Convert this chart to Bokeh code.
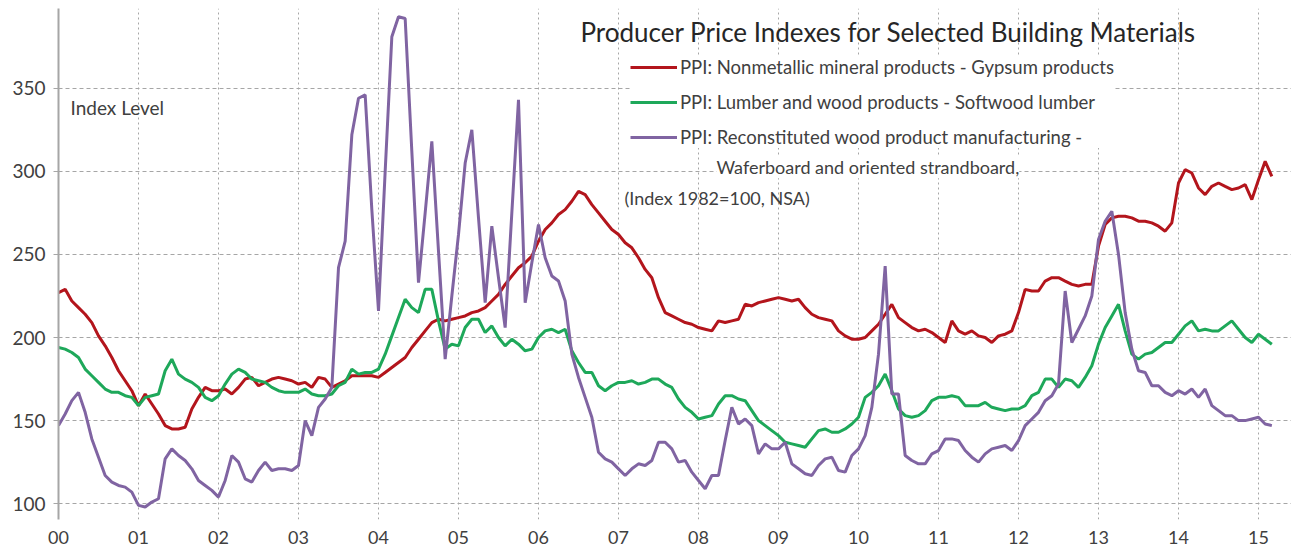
import numpy as np
from bokeh.plotting import figure
from bokeh.models import Range1d, FixedTicker, Label, Legend, LegendItem
from bokeh.embed import file_html
from bokeh.resources import INLINE

# Monthly index levels, Jan 2000 - Mar 2015
gypsum = [
    227, 229, 222, 218, 214, 209, 201, 195, 188, 180, 174, 168,
    159, 166, 160, 154, 147, 145, 145, 146, 157, 164, 170, 168,
    168, 169, 166, 170, 175, 176, 171, 173, 175, 176, 175, 174,
    172, 173, 170, 176, 175, 170, 172, 174, 177, 177, 177, 177,
    176, 179, 182, 185, 188, 194, 199, 204, 209, 211, 210, 211,
    212, 213, 215, 216, 218, 222, 226, 232, 237, 242, 245, 249,
    258, 265, 269, 274, 277, 282, 288, 286, 280, 275, 270, 265,
    262, 257, 254, 248, 241, 236, 224, 215, 213, 211, 209, 208,
    206, 205, 204, 210, 209, 210, 211, 220, 219, 221, 222, 223,
    224, 223, 222, 223, 218, 214, 212, 211, 210, 204, 201, 199,
    199, 200, 204, 208, 214, 220, 212, 209, 206, 204, 205, 203,
    200, 197, 210, 204, 202, 204, 201, 200, 197, 201, 202, 204,
    215, 229, 228, 228, 234, 236, 236, 234, 232, 231, 232, 232,
    255, 268, 272, 273, 273, 272, 270, 270, 269, 267, 264, 269,
    293, 301, 299, 290, 286, 291, 293, 291, 289, 290, 292, 283,
    295, 306, 297,
]
softwood = [
    194, 193, 191, 188, 181, 177, 173, 169, 167, 167, 165, 164,
    159, 164, 165, 166, 180, 187, 178, 175, 173, 170, 164, 162,
    165, 172, 178, 181, 179, 175, 174, 173, 170, 168, 167, 167,
    167, 169, 166, 165, 165, 166, 171, 173, 181, 178, 179, 179,
    181, 190, 201, 212, 223, 218, 215, 229, 229, 210, 193, 196,
    195, 206, 211, 211, 203, 207, 200, 195, 199, 196, 192, 193,
    200, 204, 205, 203, 205, 192, 185, 179, 179, 171, 168, 171,
    173, 173, 174, 172, 173, 175, 175, 172, 170, 163, 158, 155,
    151, 152, 153, 160, 165, 165, 163, 162, 156, 150, 147, 144,
    141, 137, 136, 135, 134, 139, 144, 145, 143, 143, 145, 148,
    152, 164, 167, 171, 178, 168, 157, 153, 152, 153, 156, 162,
    164, 164, 165, 164, 159, 159, 159, 161, 158, 157, 156, 157,
    157, 159, 165, 167, 175, 175, 170, 175, 174, 170, 176, 183,
    196, 206, 213, 220, 204, 190, 187, 190, 191, 194, 197, 197,
    202, 207, 210, 204, 205, 204, 204, 207, 210, 205, 200, 197,
    202, 199, 196,
]
osb = [
    147, 154, 162, 167, 155, 139, 128, 117, 113, 111, 110, 107,
    99, 98, 101, 103, 127, 133, 129, 126, 121, 114, 111, 108,
    104, 114, 129, 125, 115, 113, 120, 125, 120, 121, 121, 120,
    123, 150, 141, 158, 163, 170, 242, 258, 322, 344, 346, 277,
    216, 300, 381, 393, 392, 312, 233, 275, 318, 252, 187, 225,
    262, 305, 325, 272, 221, 267, 236, 206, 275, 343, 221, 245,
    268, 248, 237, 234, 222, 190, 176, 164, 152, 131, 127, 125,
    121, 117, 121, 124, 123, 126, 137, 137, 133, 125, 126, 119,
    114, 109, 117, 117, 138, 158, 148, 151, 147, 130, 136, 133,
    133, 137, 124, 121, 118, 117, 123, 127, 128, 120, 119, 129,
    133, 141, 158, 190, 243, 166, 166, 129, 126, 124, 124, 130,
    132, 139, 139, 138, 132, 128, 125, 130, 133, 134, 135, 132,
    138, 147, 151, 155, 162, 165, 172, 228, 197, 205, 213, 225,
    259, 270, 276, 250, 215, 193, 180, 179, 171, 171, 167, 165,
    168, 166, 169, 164, 169, 159, 156, 153, 153, 150, 150, 151,
    152, 148, 147,
]
series_names = [
    "PPI: Nonmetallic mineral products - Gypsum products",
    "PPI: Lumber and wood products - Softwood lumber",
    "PPI: Reconstituted wood product manufacturing - ",
]
x_tick_years = list(range(2000, 2016))
x_tick_labels = ["%02d" % (y % 100) for y in x_tick_years]
y_ticks = [100, 150, 200, 250, 300, 350]

start_year = 2000
months = np.arange(len(gypsum))
xs = start_year + months / 12.0

FONT = "Lato"
RED = "#b3151c"
GREEN = "#1ea85a"
PURPLE = "#8064a2"
GRID = "#a6a6a6"
TXT = "#404040"

p = figure(width=1291, height=551,
           x_range=Range1d(2000, 2015.4125), y_range=Range1d(90.5, 398),
           output_backend="svg", toolbar_location=None,
           min_border_left=58, min_border_right=0, min_border_top=8,
           min_border_bottom=32)
p.outline_line_color = None
p.background_fill_color = "white"
p.border_fill_color = "white"

p.xaxis.ticker = FixedTicker(ticks=x_tick_years)
p.xaxis.major_label_overrides = {y: l for y, l in zip(x_tick_years, x_tick_labels)}
p.xaxis.axis_line_color = None
p.xaxis.major_tick_line_color = None
p.xaxis.minor_tick_line_color = None
p.xaxis.major_label_standoff = 5
p.xaxis.major_label_text_font = FONT
p.xaxis.major_label_text_font_size = "18px"
p.xaxis.major_label_text_color = TXT

p.yaxis.ticker = FixedTicker(ticks=y_ticks)
p.yaxis.axis_line_color = GRID
p.yaxis.axis_line_width = 2
p.yaxis.major_tick_out = 5
p.yaxis.major_tick_in = 0
p.yaxis.major_tick_line_color = GRID
p.yaxis.minor_tick_line_color = None
p.yaxis.major_label_standoff = 8
p.yaxis.major_label_text_font = FONT
p.yaxis.major_label_text_font_size = "19px"
p.yaxis.major_label_text_color = TXT

p.xgrid.ticker = FixedTicker(ticks=x_tick_years)
p.xgrid.grid_line_color = GRID
p.xgrid.grid_line_dash = "2 3"
p.ygrid.grid_line_color = GRID
p.ygrid.grid_line_dash = "4 3"

r1 = p.line(xs, gypsum, line_color=RED, line_width=3)
r2 = p.line(xs, softwood, line_color=GREEN, line_width=3)
r3 = p.line(xs, osb, line_color=PURPLE, line_width=3)

legend = Legend(items=[LegendItem(label=series_names[0], renderers=[r1]),
                       LegendItem(label=series_names[1], renderers=[r2]),
                       LegendItem(label=series_names[2], renderers=[r3])],
                location=(572, 371))
legend.margin = 0
legend.padding = 8
legend.spacing = 13
legend.glyph_width = 47
legend.glyph_height = 22
legend.label_height = 22
legend.label_standoff = 3
legend.label_text_font = FONT
legend.label_text_font_size = "18.5px"
legend.label_text_color = TXT
legend.border_line_color = None
legend.background_fill_color = "white"
legend.background_fill_alpha = 1.0
p.add_layout(legend)

title = Label(x=2006.525, y=384.1, text="Producer Price Indexes for Selected Building Materials",
              text_font=FONT, text_font_size="26px", text_color="#262626",
              text_baseline="middle", text_align="left")
p.add_layout(title)

line4 = Label(x=2008.225, y=302.5, text="Waferboard and oriented strandboard,",
              text_font=FONT, text_font_size="18px", text_color=TXT,
              text_baseline="middle", text_align="left",
              background_fill_color="white", background_fill_alpha=1.0)
p.add_layout(line4)

note = Label(x=2007.075, y=284.2, text="(Index 1982=100, NSA)",
             text_font=FONT, text_font_size="18px", text_color=TXT,
             text_baseline="middle", text_align="left")
p.add_layout(note)

ylab = Label(x=2000.15, y=338.4, text="Index Level",
             text_font=FONT, text_font_size="19px", text_color=TXT,
             text_baseline="middle", text_align="left")
p.add_layout(ylab)

open("out.html", "w").write(file_html(p, INLINE))
